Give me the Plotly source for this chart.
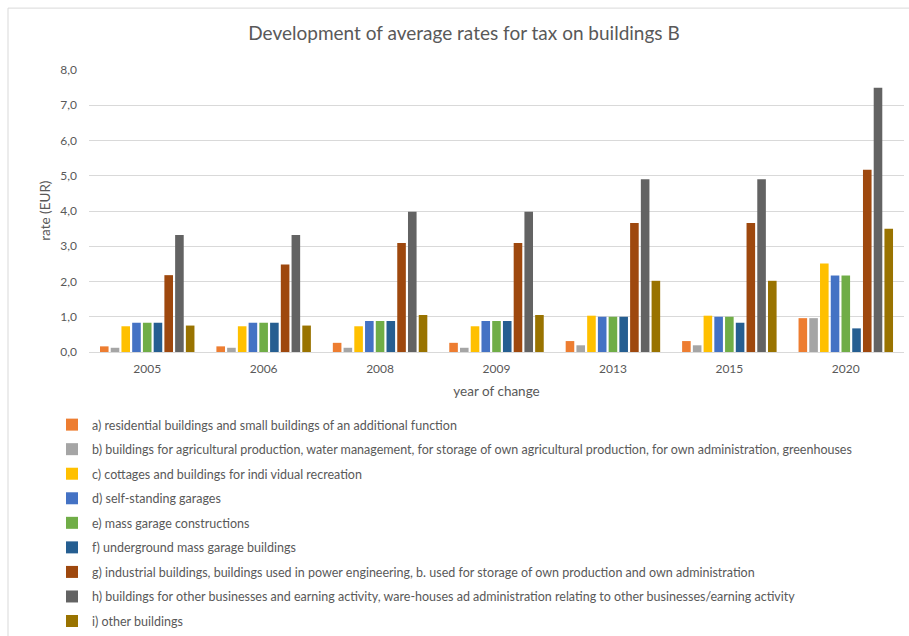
import plotly.graph_objects as go

years = ["2005", "2006", "2008", "2009", "2013", "2015", "2020"]

series_names = [
    "a) residential buildings and small buildings of an additional function",
    "b) buildings for agricultural production, water management, for storage of own agricultural production, for own administration, greenhouses",
    "c) cottages and buildings for indi vidual recreation",
    "d) self-standing garages",
    "e) mass garage constructions",
    "f) underground mass garage buildings",
    "g) industrial buildings, buildings used in power engineering, b. used for storage of own production and own administration",
    "h) buildings for other businesses and earning activity, ware-houses ad administration relating to other businesses/earning activity",
    "i) other buildings",
]

rate_a = [0.16, 0.16, 0.26, 0.26, 0.31, 0.31, 0.96]
rate_b = [0.12, 0.12, 0.12, 0.12, 0.19, 0.19, 0.96]
rate_c = [0.73, 0.73, 0.73, 0.73, 1.03, 1.03, 2.51]
rate_d = [0.83, 0.83, 0.88, 0.88, 1.00, 1.00, 2.17]
rate_e = [0.83, 0.83, 0.88, 0.88, 1.00, 1.00, 2.17]
rate_f = [0.83, 0.83, 0.88, 0.88, 1.00, 0.83, 0.67]
rate_g = [2.18, 2.48, 3.09, 3.09, 3.66, 3.66, 5.17]
rate_h = [3.32, 3.32, 3.98, 3.98, 4.90, 4.90, 7.50]
rate_i = [0.75, 0.75, 1.05, 1.05, 2.02, 2.02, 3.50]

all_rates = [rate_a, rate_b, rate_c, rate_d, rate_e, rate_f, rate_g, rate_h, rate_i]

colors = ["#ED7D31", "#A5A5A5", "#FFC000", "#4472C4", "#70AD47",
          "#255E91", "#9E480E", "#636363", "#997300"]

FONT = "Lato"
TXT = "#595959"

fig = go.Figure()
for name, vals, col in zip(series_names, all_rates, colors):
    fig.add_trace(go.Bar(x=years, y=vals, name=name, marker_color=col,
                         marker_line_width=0, legendgroup=name))

W, H = 909, 636
ml, mr, mt, mb = 89, 5, 70, 283.5
pw, ph = W - ml - mr, H - mt - mb

def px_x(p):
    return (p - ml) / pw

def px_y(p):
    return (H - mb - p) / ph

fig.update_layout(
    width=W, height=H,
    margin=dict(l=ml, r=mr, t=mt, b=mb, autoexpand=False),
    paper_bgcolor="white", plot_bgcolor="white",
    separators=",.",
    font=dict(family=FONT, size=12, color=TXT),
    title=dict(text="Development of average rates for tax on buildings B",
               x=464 / W, xref="container", xanchor="center",
               y=1 - 33 / H, yanchor="middle",
               font=dict(family=FONT, size=19, color=TXT)),
    barmode="group", bargap=0.17, bargroupgap=0.2,
    showlegend=True,
    legend=dict(x=52 / W, y=1 - 410 / H, xref="container", yref="container",
                xanchor="left", yanchor="top",
                orientation="v", tracegroupgap=5.3,
                font=dict(family=FONT, size=12.5, color=TXT),
                bgcolor="rgba(0,0,0,0)"),
    xaxis=dict(title=dict(text="year of change", standoff=11,
                          font=dict(size=13.5, color=TXT)),
               showgrid=False, showline=True, linecolor="#D9D9D9",
               tickfont=dict(size=12, color=TXT), ticks="",
               ticklabelstandoff=6),
    yaxis=dict(range=[0, 8], dtick=1, tickformat=".1f",
               showgrid=True, gridcolor="#D9D9D9", gridwidth=1,
               zeroline=False, ticks="", ticklabelstandoff=11,
               tickfont=dict(size=12, color=TXT)),
)

# y-axis caption, rotated alongside the tick labels
fig.add_annotation(text="rate (EUR)", xref="paper", yref="paper",
                   x=px_x(45), y=px_y(211), textangle=-90,
                   showarrow=False, xanchor="center", yanchor="middle",
                   font=dict(family=FONT, size=13.5, color=TXT))

# light frame around the chart area
fig.add_shape(type="line", xref="paper", yref="paper",
              x0=px_x(8), x1=px_x(915), y0=px_y(8), y1=px_y(8),
              line=dict(color="#D9D9D9", width=1))
fig.add_shape(type="line", xref="paper", yref="paper",
              x0=px_x(8), x1=px_x(8), y0=px_y(8), y1=px_y(640),
              line=dict(color="#D9D9D9", width=1))

fig.write_html("out.html")
